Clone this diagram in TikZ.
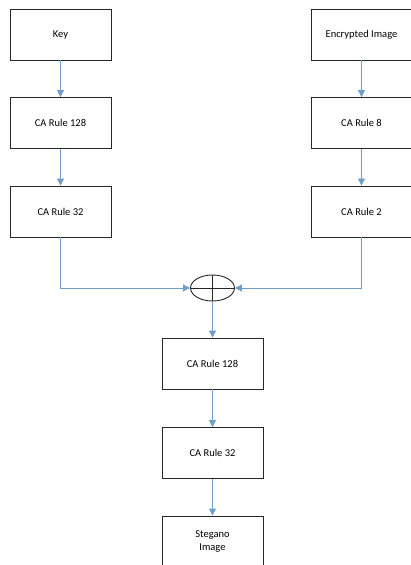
\documentclass[tikz,border=0pt]{standalone}
\usepackage{fontspec}
\setmainfont{Carlito}
\usetikzlibrary{arrows.meta,shapes.geometric}
\definecolor{arrowblue}{HTML}{6F9FC9}
\tikzset{
  x=1pt,y=1pt,
  box/.style={draw=black!85,line width=0.9pt,minimum width=101pt,minimum height=51pt,inner sep=2pt,align=center,font=\fontsize{10.5}{12.5}\selectfont},
  flow/.style={draw=arrowblue,line width=0.9pt,-{Triangle[length=7pt,width=7pt]}},
  xorsym/.style={draw=black!85,line width=0.9pt,ellipse,minimum width=44pt,minimum height=26pt,inner sep=0pt}
}
\begin{document}
\begin{tikzpicture}
\useasboundingbox (0,0) rectangle (411,-565);
\fill[white] (0,0) rectangle (411,-565);
\node[box] (key) at (60.5,-34.5) {Key};
\node[box] (l1) at (60.5,-123) {CA Rule 128};
\node[box] (l2) at (60.5,-211.5) {CA Rule 32};
\node[box] (enc) at (361.5,-34.5) {Encrypted Image};
\node[box] (r1) at (361.5,-123) {CA Rule 8};
\node[box] (r2) at (361.5,-211.5) {CA Rule 2};
\node[xorsym] (xor) at (212.5,-288) {};
\draw[black!85,line width=0.9pt] (xor.north) -- (xor.south) (xor.west) -- (xor.east);
\node[box] (b1) at (212.5,-363.5) {CA Rule 128};
\node[box] (b2) at (212.5,-453) {CA Rule 32};
\node[box] (steg) at (212.5,-541.5) {Stegano\\Image};
\draw[flow] (key) -- (l1);
\draw[flow] (l1) -- (l2);
\draw[flow] (enc) -- (r1);
\draw[flow] (r1) -- (r2);
\draw[flow] (l2.south) |- (xor.west);
\draw[flow] (r2.south) |- (xor.east);
\draw[flow] (xor.south) -- (b1.north);
\draw[flow] (b1) -- (b2);
\draw[flow] (b2) -- (steg);
\end{tikzpicture}
\end{document}
